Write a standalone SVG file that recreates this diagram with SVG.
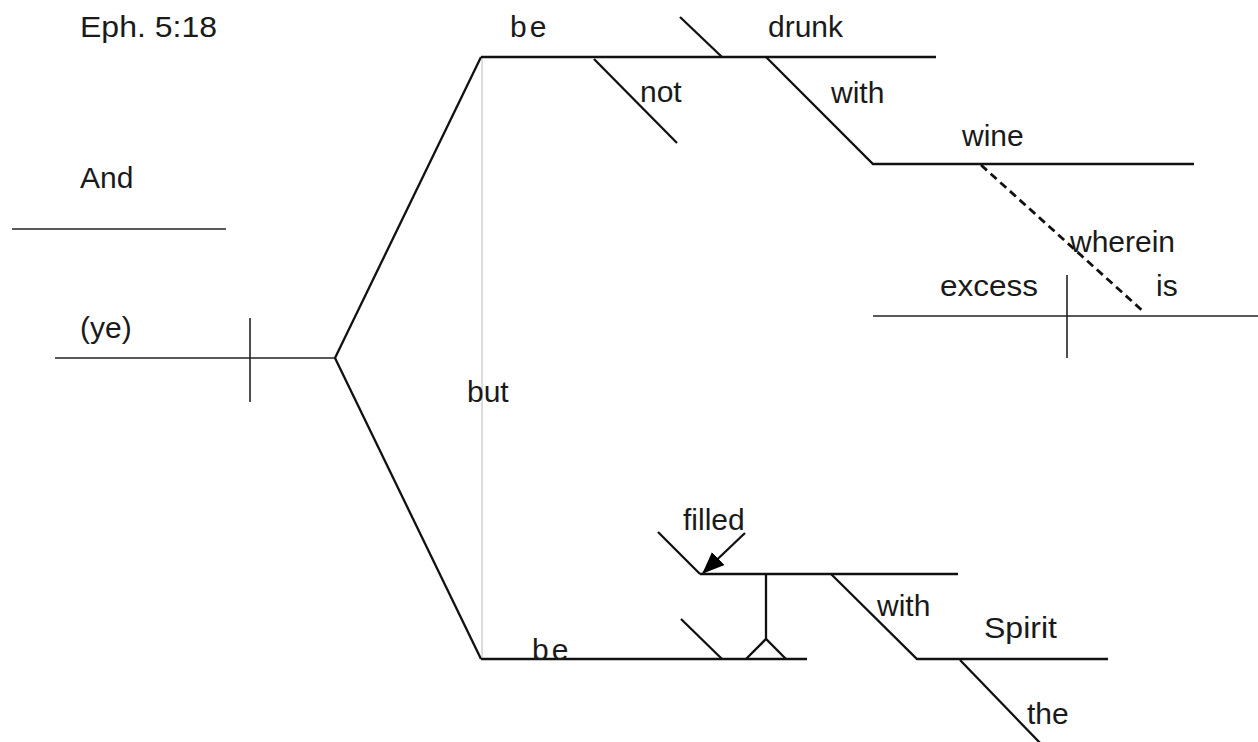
<svg xmlns="http://www.w3.org/2000/svg" width="1258" height="742" viewBox="0 0 1258 742">
<style>
text{font-family:"Liberation Sans",Arial,sans-serif;font-size:30px;fill:#1a1a1a}
.ln{stroke:#111;stroke-width:2.3;fill:none;stroke-linecap:butt}
.thin{stroke:#222;stroke-width:1.6;fill:none}
.gray{stroke:#bbb;stroke-width:1;fill:none}
.dash{stroke:#111;stroke-width:2.8;fill:none;stroke-dasharray:8,5}
.sp{letter-spacing:3px}
</style>
<defs>
<marker id="ah" markerWidth="22" markerHeight="18" refX="21" refY="9" orient="auto" markerUnits="userSpaceOnUse" viewBox="0 0 22 18">
<path d="M0,0 L22,9 L0,18 z" fill="#000"/>
</marker>
</defs>
<rect width="1258" height="742" fill="#fff"/>
<g id="title"><text x="80" y="37" textLength="137" lengthAdjust="spacingAndGlyphs">Eph. 5:18</text></g>
<g id="and"><line class="thin" x1="12" y1="229" x2="226" y2="229"/><text x="80" y="188">And</text></g>
<g id="ye"><line class="thin" x1="55" y1="358" x2="335" y2="358"/><line class="thin" x1="250" y1="318" x2="250" y2="402"/><text x="80" y="338">(ye)</text></g>
<g id="connectors">
<line class="ln" x1="335" y1="358" x2="481" y2="57"/>
<line class="ln" x1="335" y1="358" x2="481" y2="659"/>
<line class="gray" x1="482" y1="57" x2="482" y2="659"/>
</g>
<g id="but"><text x="467" y="402">but</text></g>
<g id="pred1">
<line class="ln" x1="481" y1="57" x2="936" y2="57"/>
<line class="ln" x1="680" y1="17" x2="722" y2="57"/>
<text class="sp" x="510" y="37">be</text>
<text x="768" y="37">drunk</text>
</g>
<g id="not"><line class="ln" x1="594" y1="59" x2="677" y2="143"/><text x="640" y="102">not</text></g>
<g id="with1">
<polyline class="ln" points="766,57 873,164 1194,164"/>
<text x="831" y="103">with</text>
<text x="962" y="146">wine</text>
</g>
<g id="relclause">
<line class="thin" x1="873" y1="316" x2="1258" y2="316"/>
<line class="thin" x1="1067" y1="275" x2="1067" y2="358"/>
<text x="940" y="296" textLength="98" lengthAdjust="spacingAndGlyphs">excess</text>
<text x="1156" y="296">is</text>
<line class="dash" x1="981" y1="165" x2="1145" y2="313"/>
<text x="1070" y="252">wherein</text>
</g>
<g id="pred2">
<line class="ln" x1="481" y1="659" x2="807" y2="659"/>
<line class="ln" x1="681" y1="619" x2="722" y2="659"/>
<text class="sp" x="532" y="660">be</text>
</g>
<g id="filled">
<polyline class="ln" points="746,659 766,639 786,659"/>
<line class="ln" x1="766" y1="574" x2="766" y2="639"/>
<line class="ln" x1="700" y1="574" x2="958" y2="574"/>
<line class="ln" x1="658" y1="532" x2="700" y2="574"/>
<line class="ln" x1="745" y1="533" x2="703" y2="573" marker-end="url(#ah)"/>
<text x="683" y="530">filled</text>
</g>
<g id="with2">
<polyline class="ln" points="831,574 917,659 1108,659"/>
<text x="877" y="616">with</text>
<text x="984" y="638" textLength="73" lengthAdjust="spacingAndGlyphs">Spirit</text>
</g>
<g id="the"><line class="ln" x1="960" y1="660" x2="1042" y2="745"/><text x="1027" y="724">the</text></g>
</svg>
